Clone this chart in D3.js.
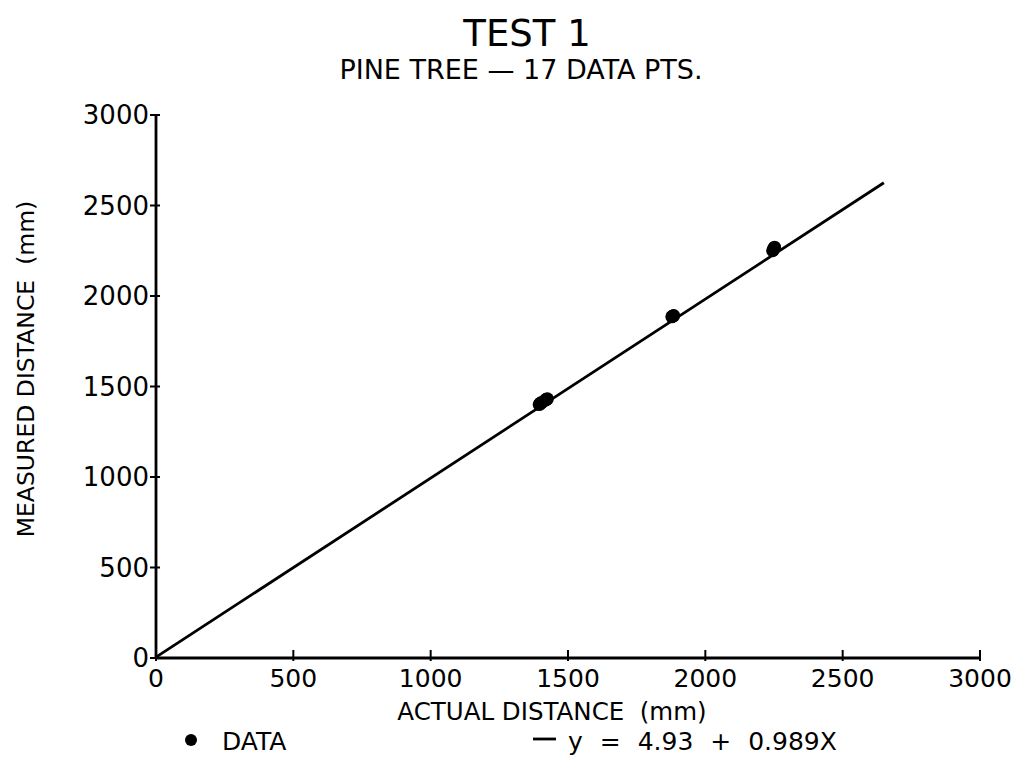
<!DOCTYPE html>
<html>
<head>
<meta charset="utf-8">
<script src="https://cdn.jsdelivr.net/npm/d3@7"></script>
<style>
  body { margin: 0; background: #fff; }
  text { font-family: "DejaVu Sans", sans-serif; fill: #000; white-space: pre; }
</style>
</head>
<body>
<div id="chart"></div>
<script>
// measured data (mm) - 17 points, many overlap
var actual   = [1395, 1398, 1400, 1402, 1405, 1418, 1420, 1422, 1425, 1878, 1880, 1882, 1885, 2245, 2248, 2250, 2252];
var measured = [1400, 1405, 1408, 1410, 1412, 1425, 1428, 1430, 1432, 1885, 1888, 1890, 1892, 2250, 2255, 2265, 2270];
var xTicks = [0, 500, 1000, 1500, 2000, 2500, 3000];
var yTicks = [0, 500, 1000, 1500, 2000, 2500, 3000];
var fitA = 4.93, fitB = 0.989, fitEnd = 2650;

var W = 1016, H = 757;
var svg = d3.select("#chart").append("svg")
  .attr("width", W).attr("height", H);

var x = d3.scaleLinear().domain([0, 3000]).range([156, 980]);
var y = d3.scaleLinear().domain([0, 3000]).range([658, 115]);

// axes lines
svg.append("line").attr("x1", x(0)).attr("x2", x(3000)).attr("y1", y(0)).attr("y2", y(0))
  .attr("stroke", "#000").attr("stroke-width", 2.8);
svg.append("line").attr("x1", x(0)).attr("x2", x(0)).attr("y1", y(0)).attr("y2", y(3000))
  .attr("stroke", "#000").attr("stroke-width", 2.8);

// x ticks
svg.selectAll(".xt").data(xTicks).enter().append("line")
  .attr("x1", function(d) { return x(d); }).attr("x2", function(d) { return x(d); })
  .attr("y1", y(0) - 8).attr("y2", y(0) + 3)
  .attr("stroke", "#000").attr("stroke-width", 2);
svg.selectAll(".xl").data(xTicks).enter().append("text")
  .attr("x", function(d) { return x(d); }).attr("y", y(0) + 29)
  .attr("text-anchor", "middle").attr("font-size", 25)
  .text(function(d) { return d; });

// y ticks
svg.selectAll(".yt").data(yTicks).enter().append("line")
  .attr("x1", x(0) - 6).attr("x2", x(0) + 4)
  .attr("y1", function(d) { return y(d); }).attr("y2", function(d) { return y(d); })
  .attr("stroke", "#000").attr("stroke-width", 2);
svg.selectAll(".yl").data(yTicks).enter().append("text")
  .attr("x", x(0) - 7).attr("y", function(d) { return y(d) + 9; })
  .attr("text-anchor", "end").attr("font-size", 26)
  .text(function(d) { return d; });

// fit line
svg.append("line")
  .attr("x1", x(0)).attr("y1", y(fitA))
  .attr("x2", x(fitEnd)).attr("y2", y(fitA + fitB * fitEnd))
  .attr("stroke", "#000").attr("stroke-width", 2.8);

// data points
svg.selectAll(".pt").data(actual).enter().append("circle")
  .attr("cx", function(d) { return x(d); })
  .attr("cy", function(d, i) { return y(measured[i]); })
  .attr("r", 6.5).attr("fill", "#000");

// titles
svg.append("text").attr("x", 527).attr("y", 46).attr("text-anchor", "middle")
  .attr("font-size", 37).text("TEST 1");
svg.append("text").attr("x", 521).attr("y", 79).attr("text-anchor", "middle")
  .attr("font-size", 27).text("PINE TREE \u2014 17 DATA PTS.");

// axis labels
svg.append("text").attr("x", 552).attr("y", 720).attr("text-anchor", "middle")
  .attr("font-size", 24.5).text("ACTUAL DISTANCE\u00a0\u00a0(mm)");
svg.append("text").attr("transform", "translate(34,369) rotate(-90)")
  .attr("text-anchor", "middle").attr("font-size", 23.5).text("MEASURED DISTANCE\u00a0\u00a0(mm)");

// legend
svg.append("circle").attr("cx", 191).attr("cy", 740).attr("r", 6).attr("fill", "#000");
svg.append("text").attr("x", 222).attr("y", 750).attr("font-size", 25).text("DATA");
svg.append("line").attr("x1", 533).attr("x2", 556).attr("y1", 739).attr("y2", 739)
  .attr("stroke", "#000").attr("stroke-width", 2.8);
svg.append("text").attr("x", 568).attr("y", 750).attr("font-size", 25)
  .attr("word-spacing", 9).text("y = 4.93 + 0.989X");
</script>
</body>
</html>
